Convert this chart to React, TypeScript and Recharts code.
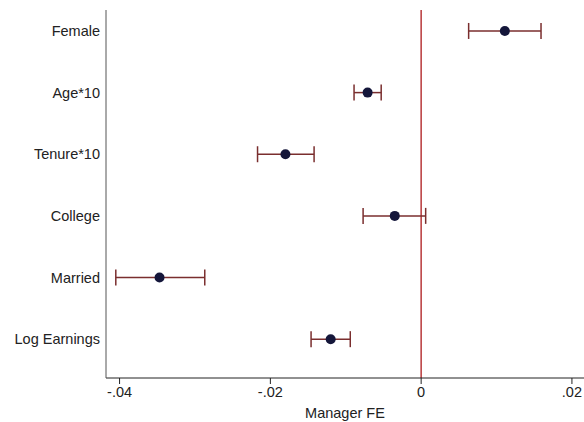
import React from 'react';
import {
  ScatterChart,
  Scatter,
  XAxis,
  YAxis,
  ErrorBar,
  ReferenceLine,
} from 'recharts';

// Covariates, top to bottom
const covariates = ['Female', 'Age*10', 'Tenure*10', 'College', 'Married', 'Log Earnings'];

// Point estimates and 95% CI bounds on the manager fixed effect
const estimates = [0.0111, -0.0071, -0.0180, -0.0035, -0.0347, -0.0120];
const lower = [0.0063, -0.0089, -0.0217, -0.0077, -0.0405, -0.0146];
const upper = [0.0159, -0.0053, -0.0142, 0.0006, -0.0287, -0.0094];

const xTicks = [-0.04, -0.02, 0, 0.02];
const xTickLabels = ['-.04', '-.02', '0', '.02'];

const data = covariates.map((name, i) => ({
  name,
  pos: i,
  est: estimates[i],
  ci: [estimates[i] - lower[i], upper[i] - estimates[i]],
}));

const font = 'Liberation Sans, Arial, Helvetica, sans-serif';

const Dot = (props: any) => {
  const { cx, cy } = props;
  return <circle cx={cx} cy={cy} r={5} fill="#14163a" />;
};

// axis title sits under the tick labels, centred on the plot
const AxisTitle = (props: any) => {
  const { viewBox } = props;
  return (
    <text
      x={viewBox.x + viewBox.width / 2}
      y={viewBox.y + 35}
      dy="0.35em"
      textAnchor="middle"
      fill="#222"
      fontSize={14.5}
    >
      Manager FE
    </text>
  );
};

export default function App() {
  return (
    <div style={{ position: 'absolute', left: 0, top: 0, background: '#fff' }}>
      <ScatterChart
        width={584}
        height={422}
        margin={{ top: 10, right: 0, bottom: 0, left: 0 }}
        style={{ fontFamily: font }}
      >
        <XAxis
          type="number"
          dataKey="est"
          domain={[-0.0418, 0.0216]}
          ticks={xTicks}
          tickFormatter={(v: number) => xTickLabels[xTicks.indexOf(v)] ?? String(v)}
          allowDataOverflow
          height={44}
          stroke="#222"
          tickSize={6}
          tickMargin={3}
          tick={{ fill: '#222', fontSize: 14.5 }}
          label={<AxisTitle />}
        />
        <YAxis
          type="number"
          dataKey="pos"
          reversed
          domain={[-0.34, 5.63]}
          ticks={[0, 1, 2, 3, 4, 5]}
          tickFormatter={(v: number) => covariates[v]}
          allowDataOverflow
          width={106}
          stroke="#555"
          tickLine={false}
          tickMargin={0}
          tick={{ fill: '#222', fontSize: 14.5 }}
        />
        <ReferenceLine x={0} stroke="#b8383a" strokeWidth={1.5} />
        <Scatter data={data} shape={<Dot />} isAnimationActive={false}>
          <ErrorBar
            dataKey="ci"
            direction="x"
            width={8}
            stroke="#7a2e2e"
            strokeWidth={1.5}
          />
        </Scatter>
      </ScatterChart>
    </div>
  );
}
